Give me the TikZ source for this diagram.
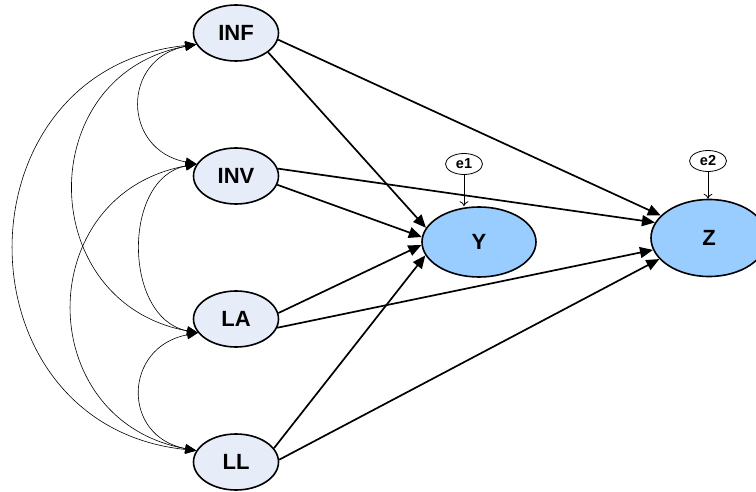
\documentclass[tikz,border=0pt]{standalone}
\usepackage{fontspec}
\setmainfont{Liberation Sans}
\usetikzlibrary{shapes.geometric,arrows.meta}
\definecolor{obsfill}{RGB}{230,236,248}
\definecolor{endfill}{RGB}{153,204,255}
\tikzset{
  obsnode/.style={ellipse, draw, line width=1.6pt, fill=obsfill, inner sep=0pt,
    minimum width=85pt, minimum height=56pt, font=\fontsize{22}{24}\selectfont\bfseries},
  endnode/.style={ellipse, draw, line width=1.6pt, fill=endfill, inner sep=0pt,
    font=\fontsize{22}{24}\selectfont\bfseries},
  errnode/.style={ellipse, draw, line width=0.8pt, fill=white, inner sep=0pt,
    minimum width=37pt, minimum height=21pt, font=\fontsize{14.5}{16}\selectfont\bfseries},
  pathline/.style={line width=1.7pt, -{Triangle[length=13pt,width=11pt]}},
  covline/.style={line width=0.6pt, {Triangle[length=11pt,width=9pt]}-{Triangle[length=11pt,width=9pt]}},
  errline/.style={line width=0.8pt, -{To[length=5pt,width=9pt]}}
}
\begin{document}
\begin{tikzpicture}[x=1pt,y=-1pt]
\clip (0,0) rectangle (756,492);
\fill[white] (0,0) rectangle (756,492);
\node[obsnode] (INF) at (236,33) {INF};
\node[obsnode] (INV) at (236,176) {INV};
\node[obsnode] (LA) at (236,319) {LA};
\node[obsnode] (LL) at (236,462) {LL};
\node[endnode, minimum width=114pt, minimum height=70pt] (Y) at (479,242) {Y};
\node[endnode, minimum width=116pt, minimum height=77pt] (Z) at (709,238) {Z};
\node[errnode] (e1) at (464,164) {e1};
\node[errnode] (e2) at (708,161) {e2};

\draw[errline] (e1.south) -- (e1.south |- Y.north);
\draw[errline] (e2.south) -- (Z.north -| e2.south);

\draw[pathline] (INF.-31) -- (Y.165);
\draw[pathline] (INF.-9) -- (Z.155);
\draw[pathline] (INV.-12) -- (Y.175);
\draw[pathline] (INV.10) -- (Z.164);
\draw[pathline] (LA.8) -- (Y.-177);
\draw[pathline] (LA.-12) -- (Z.-168);
\draw[pathline] (LL.20) -- (Y.-166);
\draw[pathline] (LL.3) -- (Z.-157);

\draw[covline] (INF.196) .. controls +(-75,14) and +(-75,-14) .. (INV.163);
\draw[covline] (INV.163) .. controls +(-75,14) and +(-75,-14) .. (LA.200);
\draw[covline] (LA.200) .. controls +(-75,14) and +(-75,-14) .. (LL.164);
\draw[covline] (INF.196) .. controls +(-164,30) and +(-164,-30) .. (LA.200);
\draw[covline] (INV.163) .. controls +(-165,30) and +(-165,-30) .. (LL.164);
\draw[covline] (INF.196) .. controls +(-242,25) and +(-242,-25) .. (LL.164);
\end{tikzpicture}
\end{document}
